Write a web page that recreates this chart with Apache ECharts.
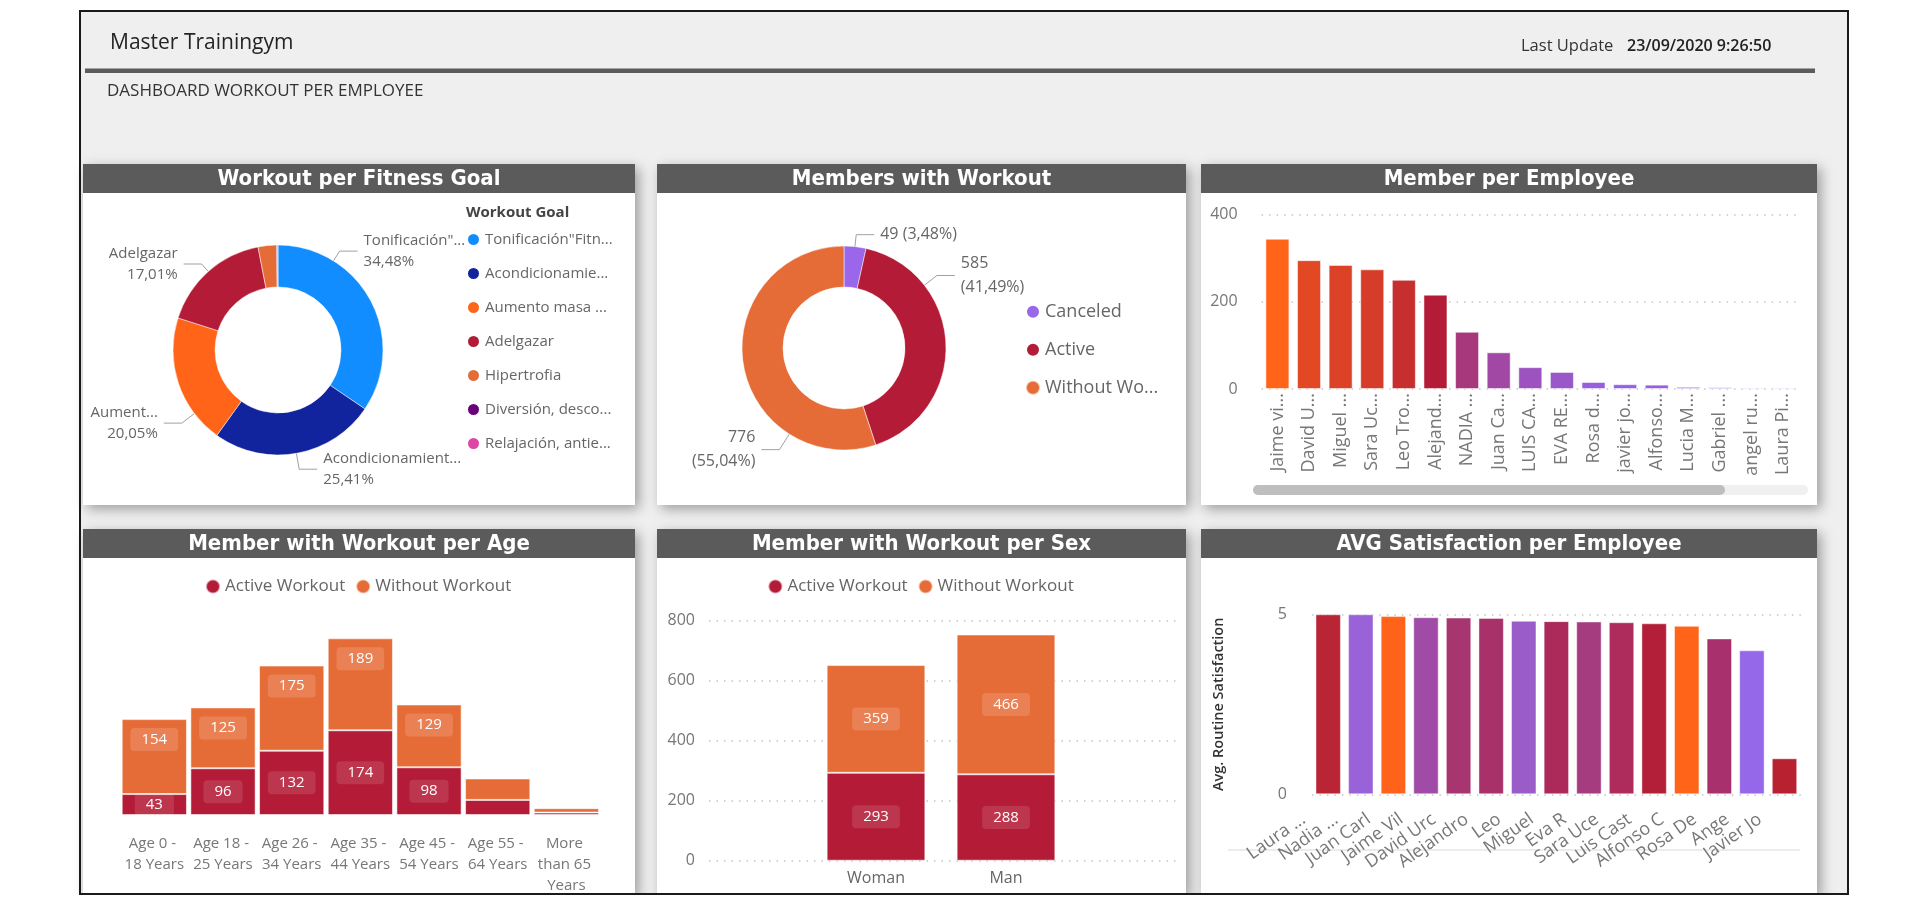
<!DOCTYPE html>
<html><head><meta charset="utf-8">
<script src="https://cdn.jsdelivr.net/npm/echarts@6/dist/echarts.min.js"></script>
<style>html,body{margin:0;padding:0;background:#fff;}#c{width:1913px;height:917px;}</style>
</head><body><div id="c"></div>
<script>
// ---------- data ----------
const goalNames = ['Tonificación"Fitness"', 'Acondicionamiento físico', 'Aumento masa muscular', 'Adelgazar', 'Hipertrofia', 'Diversión, descanso', 'Relajación, antiestrés'];
const goalLegendText = ['Tonificación"Fitn...', 'Acondicionamie...', 'Aumento masa ...', 'Adelgazar', 'Hipertrofia', 'Diversión, desco...', 'Relajación, antie...'];
const goalLabelText = ['Tonificación"...', 'Acondicionamient...', 'Aument...', 'Adelgazar', 'Hipertrofia', 'Diversión', 'Relajación'];
const goalPct = [34.48, 25.41, 20.05, 17.01, 2.85, 0.10, 0.10];

const statusNames = ['Canceled', 'Active', 'Without Workout'];
const statusLegendText = ['Canceled', 'Active', 'Without Wo...'];
const statusValues = [49, 585, 776];

const employeeLabels = ['Jaime vi...', 'David U...', 'Miguel ...', 'Sara Uc...', 'Leo Tro...', 'Alejand...', 'NADIA ...', 'Juan Ca...', 'LUIS CA...', 'EVA RE...', 'Rosa d...', 'javier jo...', 'Alfonso...', 'Lucia M...', 'Gabriel ...', 'angel ru...', 'Laura Pi...'];
const employeeMembers = [344, 295, 284, 274, 250, 216, 131, 84, 50, 39, 16, 11, 10, 5, 4, 3, 3];

const ageLabels = ['Age 0 - 18 Years', 'Age 18 - 25 Years', 'Age 26 - 34 Years', 'Age 35 - 44 Years', 'Age 45 - 54 Years', 'Age 55 - 64 Years', 'More than 65 Years'];
const ageActive = [43, 96, 132, 174, 98, 31, 5];
const ageWithout = [154, 125, 175, 189, 129, 44, 9];

const sexLabels = ['Woman', 'Man'];
const sexActive = [293, 288];
const sexWithout = [359, 466];

const satLabels = ['Laura ...', 'Nadia ...', 'Juan Carl', 'Jaime Vil', 'David Urc', 'Alejandro', 'Leo', 'Miguel', 'Eva R', 'Sara Uce', 'Luis Cast', 'Alfonso C', 'Rosa De', 'Ange', 'Javier Jo'];
const satValues = [5.00, 5.00, 4.95, 4.92, 4.91, 4.90, 4.82, 4.81, 4.80, 4.78, 4.75, 4.68, 4.33, 4.00, 1.00];

const panelTitles = ['Workout per Fitness Goal', 'Members with Workout', 'Member per Employee', 'Member with Workout per Age', 'Member with Workout per Sex', 'AVG Satisfaction per Employee'];

// ---------- styles ----------
const goalColors = ['#118DFF', '#12239E', '#FF6419', '#B31B36', '#E66C37', '#6B007B', '#E044A7'];
const goalLabelShift = [[-37, -45], [4, 6], [10, 37], [-3, 0], null, null, null];
const statusColors = ['#9A66EA', '#B31B36', '#E66C37'];
const statusLabelShift = [[3, -2], [-16, -67], [43, 84]];
const satColors = ['#BA2535', '#9A62D8', '#FF6319', '#A04CA6', '#A7356F', '#A8316A', '#9A5CC8', '#AB2A5A', '#A53C7F', '#AE2C5C', '#B31E38', '#FF6419', '#A8306C', '#9468E8', '#B8212F'];
const ACTIVE = '#B31B36', WITHOUT = '#E66C37';
const divLow = '#9563E6', divMid = '#B31B36', divHigh = '#FF6419', divCenter = 216;
const FONT = "'Open Sans', sans-serif";
const TFONT = "'DejaVu Sans Condensed', sans-serif";
const AXC = '#777';
const PIE1 = {center: [278, 350], radius: [63, 105]};
const PIE2 = {center: [844, 348], radius: [61, 102]};

function divColor(v) {
  const mn = Math.min(...employeeMembers), mx = Math.max(...employeeMembers);
  if (v <= divCenter) return echarts.color.lerp((v - mn) / (divCenter - mn), [divLow, divMid]);
  return echarts.color.lerp((v - divCenter) / (mx - divCenter), [divMid, divHigh]);
}
const fmtPct = x => x.toFixed(2).replace('.', ',') + '%';
const statusTotal = statusValues.reduce((a, b) => a + b, 0);

// nudge pie labels like Power BI does, and rebuild the guide line (horizontal + radial segment)
function shiftLayout(shifts, pie) {
  const [cx, cy] = pie.center, R = pie.radius[1];
  return p => {
    const s = shifts[p.dataIndex];
    if (!s) return {};
    const r = p.labelRect;
    const left = r.x + s[0], right = r.x + r.width + s[0], my = r.y + r.height / 2 + s[1];
    const onRight = p.align !== 'right';
    const ax = onRight ? left : right;
    const p2 = [onRight ? left - 6 : right + 6, my];
    const p1 = [onRight ? p2[0] - 18 : p2[0] + 18, my];
    const vx = p1[0] - cx, vy = p1[1] - cy, d = Math.sqrt(vx * vx + vy * vy);
    const p0 = [cx + vx / d * R, cy + vy / d * R];
    return {x: ax, y: my, labelLinePoints: [p0, p1, p2]};
  };
}

const panels = [
  [83, 164, 552, 341], [657, 164, 529, 341], [1201, 164, 616, 341],
  [83, 529, 552, 365], [657, 529, 529, 365], [1201, 529, 616, 365]
];

const mid = {verticalAlign: 'middle', textVerticalAlign: 'middle'};
const graphics = [];
graphics.push({type: 'rect', z: -20, shape: {x: 80, y: 11, width: 1768, height: 883}, style: {fill: '#EFEFEF'}});
panels.forEach((p, i) => {
  graphics.push({type: 'rect', z: -12, shape: {x: p[0], y: p[1], width: p[2], height: p[3]},
    style: {fill: '#fff', shadowBlur: 12, shadowColor: 'rgba(0,0,0,0.35)', shadowOffsetX: 4, shadowOffsetY: 4}});
  graphics.push({type: 'rect', z: -11, shape: {x: p[0], y: p[1], width: p[2], height: 29}, style: {fill: '#5B5B5B'}});
  graphics.push({type: 'text', z: -10, x: p[0] + p[2] / 2, y: p[1] + 15,
    style: Object.assign({text: panelTitles[i], fill: '#fff', fontSize: 22, fontWeight: 'bold', fontFamily: TFONT,
      align: 'center', textAlign: 'center'}, mid)});
});
// header
graphics.push({type: 'text', z: -10, x: 110, y: 43, style: Object.assign({text: 'Master Trainingym', fill: '#252423', fontSize: 21, fontFamily: FONT}, mid)});
graphics.push({type: 'text', z: -10, x: 1521, y: 46, style: Object.assign({text: 'Last Update', fill: '#333', fontSize: 16.5, fontFamily: FONT}, mid)});
graphics.push({type: 'text', z: -10, x: 1627, y: 46, style: Object.assign({text: '23/09/2020 9:26:50', fill: '#222', fontSize: 16, fontWeight: 600, fontFamily: FONT}, mid)});
graphics.push({type: 'rect', z: -10, shape: {x: 85, y: 68.5, width: 1730, height: 4.5}, style: {fill: '#5B5B5B'}});
graphics.push({type: 'text', z: -10, x: 107, y: 91, style: Object.assign({text: 'DASHBOARD WORKOUT PER EMPLOYEE', fill: '#333', fontSize: 17, fontFamily: FONT}, mid)});
// legend title
graphics.push({type: 'text', z: -5, x: 466, y: 213, style: Object.assign({text: 'Workout Goal', fill: '#444', fontSize: 15, fontWeight: 'bold', fontFamily: FONT}, mid)});
// scrollbar
graphics.push({type: 'rect', z: -5, shape: {x: 1253, y: 485, width: 555, height: 10, r: 5}, style: {fill: '#F0F0F0'}});
graphics.push({type: 'rect', z: -4, shape: {x: 1253, y: 485, width: 472, height: 10, r: 5}, style: {fill: '#BEBEBE'}});
// line under satisfaction labels
graphics.push({type: 'line', z: -5, shape: {x1: 1228, y1: 850, x2: 1800, y2: 850}, style: {stroke: '#E6E6E6', lineWidth: 1.5}});
// overlay: clip + border
graphics.push({type: 'rect', z: 100, shape: {x: 0, y: 894, width: 1913, height: 23}, style: {fill: '#fff'}});
graphics.push({type: 'rect', z: 101, shape: {x: 80, y: 11, width: 1768, height: 883}, style: {fill: 'none', stroke: '#1a1a1a', lineWidth: 2}});

const dotted = {show: true, lineStyle: {type: [1.5, 6], color: '#C4C4C4', width: 1.5}};
const boxLabel = (bg) => ({show: true, color: '#fff', fontSize: 15, backgroundColor: bg, borderRadius: 4, padding: [4, 11], formatter: '{c}'});

const option = {
  animation: false,
  textStyle: {fontFamily: FONT},
  graphic: {elements: graphics},
  legend: [
    {data: goalNames, orient: 'vertical', left: 466, top: 232, padding: 0, icon: 'circle', itemWidth: 13, itemHeight: 13, itemGap: 19,
      formatter: n => goalLegendText[goalNames.indexOf(n)],
      textStyle: {fontSize: 15, color: '#666'}},
    {data: statusNames, orient: 'vertical', left: 1025, top: 302.7, padding: 0, icon: 'circle', itemWidth: 14, itemHeight: 14, itemGap: 20,
      formatter: n => statusLegendText[statusNames.indexOf(n)],
      textStyle: {fontSize: 18, color: '#666'}},
    {data: ['Active Workout', 'Without Workout'], left: 205, top: 578, padding: 0, icon: 'circle', itemWidth: 14, itemHeight: 14, itemGap: 10,
      textStyle: {fontSize: 17, color: '#666'}},
    {data: ['Active Workout', 'Without Workout'], left: 767.4, top: 578, padding: 0, icon: 'circle', itemWidth: 14, itemHeight: 14, itemGap: 10,
      textStyle: {fontSize: 17, color: '#666'}}
  ],
  grid: [
    {left: 1261.6, top: 214.3, width: 537.4, height: 174.7, outerBoundsMode: 'none'},
    {left: 120, top: 620.3, width: 480.7, height: 194.7, outerBoundsMode: 'none'},
    {left: 709, top: 620.7, width: 467.6, height: 240, outerBoundsMode: 'none'},
    {left: 811, top: 620.7, width: 260, height: 240, outerBoundsMode: 'none'},
    {left: 1311.9, top: 614.3, width: 488.9, height: 180, outerBoundsMode: 'none'}
  ],
  xAxis: [
    {gridIndex: 0, type: 'category', data: employeeLabels, axisLine: {show: false}, axisTick: {show: false},
      axisLabel: {rotate: 90, interval: 0, fontSize: 18, color: AXC, margin: 4}},
    {gridIndex: 1, type: 'category', data: ageLabels, axisLine: {show: false}, axisTick: {show: false},
      axisLabel: {interval: 0, fontSize: 15, color: AXC, margin: 18, width: 62, overflow: 'break', lineHeight: 21}},
    {gridIndex: 2, type: 'category', data: [''], show: false},
    {gridIndex: 3, type: 'category', data: sexLabels, axisLine: {show: false}, axisTick: {show: false},
      axisLabel: {interval: 0, fontSize: 16, color: '#666', margin: 10}},
    {gridIndex: 4, type: 'category', data: satLabels, axisLine: {show: false}, axisTick: {show: false},
      axisLabel: {interval: 0, rotate: 35, fontSize: 18, color: AXC, margin: 6, padding: [0, 30, 40, 0]}}
  ],
  yAxis: [
    {gridIndex: 0, type: 'value', min: 0, max: 400, interval: 200, axisLine: {show: false}, axisTick: {show: false},
      axisLabel: {fontSize: 16, color: AXC, margin: 24}, splitLine: dotted},
    {gridIndex: 1, type: 'value', min: 0, max: 400, show: false, splitLine: {show: false}},
    {gridIndex: 2, type: 'value', min: 0, max: 800, interval: 200, axisLine: {show: false}, axisTick: {show: false},
      axisLabel: {fontSize: 16, color: AXC, margin: 14}, splitLine: dotted},
    {gridIndex: 3, type: 'value', min: 0, max: 800, show: false, splitLine: {show: false}},
    {gridIndex: 4, type: 'value', min: 0, max: 5, interval: 5, axisLine: {show: false}, axisTick: {show: false},
      axisLabel: {fontSize: 16, color: AXC, margin: 25}, splitLine: dotted,
      name: 'Avg. Routine Satisfaction', nameLocation: 'middle', nameGap: 86, nameRotate: 90,
      nameTextStyle: {fontSize: 14.5, color: '#333', fontWeight: 600}}
  ],
  series: [
    {type: 'pie', center: PIE1.center, radius: PIE1.radius, startAngle: 90, clockwise: true,
      data: goalNames.map((n, i) => ({name: n, value: goalPct[i], itemStyle: {color: goalColors[i]},
        label: {show: goalPct[i] >= 5}, labelLine: {show: goalPct[i] >= 5}})),
      label: {formatter: p => goalLabelText[p.dataIndex] + '\n' + fmtPct(p.value), color: '#666', fontSize: 15, lineHeight: 21},
      labelLine: {length: 10, length2: 16, lineStyle: {color: '#A0A0A0', width: 1}},
      labelLayout: shiftLayout(goalLabelShift, PIE1),
      itemStyle: {borderColor: '#fff', borderWidth: 0.5}},
    {type: 'pie', center: PIE2.center, radius: PIE2.radius, startAngle: 90, clockwise: true,
      data: statusNames.map((n, i) => ({name: n, value: statusValues[i], itemStyle: {color: statusColors[i]}})),
      label: {formatter: p => {
          const share = p.value / statusTotal * 100;
          return p.value + (share > 10 ? '\n' : ' ') + '(' + fmtPct(share) + ')';
        }, color: '#666', fontSize: 16, lineHeight: 24},
      labelLine: {length: 10, length2: 16, lineStyle: {color: '#A0A0A0', width: 1}},
      labelLayout: shiftLayout(statusLabelShift, PIE2),
      itemStyle: {borderColor: '#fff', borderWidth: 0.5}},
    {type: 'bar', name: 'Members', xAxisIndex: 0, yAxisIndex: 0, barWidth: 24,
      data: employeeMembers,
      itemStyle: {color: p => divColor(p.value), borderColor: 'rgba(255,255,255,0.5)', borderWidth: 1}},
    {type: 'bar', name: 'Active Workout', xAxisIndex: 1, yAxisIndex: 1, stack: 'age', barCategoryGap: '5%',
      data: ageActive.map((v, i) => ({value: v, label: {show: ageActive[i] + ageWithout[i] > 100}})),
      itemStyle: {color: ACTIVE, borderColor: 'rgba(255,255,255,0.55)', borderWidth: 1},
      label: Object.assign(boxLabel('rgba(255,255,255,0.12)'), {position: 'inside'})},
    {type: 'bar', name: 'Without Workout', xAxisIndex: 1, yAxisIndex: 1, stack: 'age', barCategoryGap: '5%',
      data: ageWithout.map((v, i) => ({value: v, label: {show: ageActive[i] + ageWithout[i] > 100}})),
      itemStyle: {color: WITHOUT, borderColor: 'rgba(255,255,255,0.55)', borderWidth: 1},
      label: Object.assign(boxLabel('rgba(255,255,255,0.15)'), {position: 'insideTop', distance: 9})},
    {type: 'bar', name: 'Active Workout', xAxisIndex: 3, yAxisIndex: 3, stack: 'sex', barWidth: 98.7,
      data: sexActive,
      itemStyle: {color: ACTIVE, borderColor: 'rgba(255,255,255,0.55)', borderWidth: 1},
      label: Object.assign(boxLabel('rgba(255,255,255,0.12)'), {position: 'inside'})},
    {type: 'bar', name: 'Without Workout', xAxisIndex: 3, yAxisIndex: 3, stack: 'sex', barWidth: 98.7,
      data: sexWithout,
      itemStyle: {color: WITHOUT, borderColor: 'rgba(255,255,255,0.55)', borderWidth: 1},
      label: Object.assign(boxLabel('rgba(255,255,255,0.15)'), {position: 'inside'})},
    {type: 'bar', name: 'Avg. Routine Satisfaction', xAxisIndex: 4, yAxisIndex: 4, barWidth: '78%',
      data: satValues,
      itemStyle: {color: p => satColors[p.dataIndex], borderColor: 'rgba(255,255,255,0.45)', borderWidth: 1}}
  ]
};
const chart = echarts.init(document.getElementById('c'));
chart.setOption(option);
</script></body></html>
